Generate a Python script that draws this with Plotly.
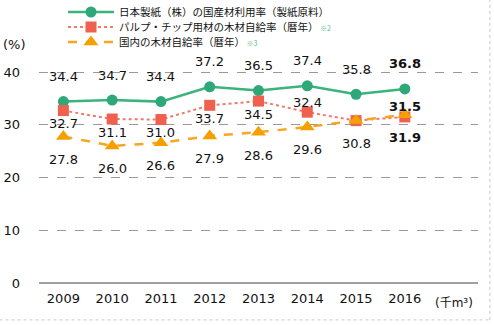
import plotly.graph_objects as go

years = ["2009", "2010", "2011", "2012", "2013", "2014", "2015", "2016"]
nippon = [34.4, 34.7, 34.4, 37.2, 36.5, 37.4, 35.8, 36.8]
pulp = [32.7, 31.1, 31.0, 33.7, 34.5, 32.4, 30.8, 31.5]
pulp_labels = ["32.7", "31.1", "31.0", "33.7", "34.5", "32.4", "", "31.5"]
domestic = [27.8, 26.0, 26.6, 27.9, 28.6, 29.6, 30.8, 31.9]

names = [
    "日本製紙（株）の国産材利用率（製紙原料）",
    "パルプ・チップ用材の木材自給率（暦年）<span style='font-size:7px;color:#5cc08a'> ※2</span>",
    "国内の木材自給率（暦年）<span style='font-size:7px;color:#5cc08a'> ※3</span>",
]

xs = list(range(len(years)))
FONT = "DejaVu Sans, Noto Sans CJK JP, sans-serif"

fig = go.Figure()
fig.add_trace(go.Scatter(
    x=xs, y=nippon, name=names[0], mode="lines+markers", legend="legend",
    line=dict(color="#3cb37a", width=2.5),
    marker=dict(symbol="circle", size=11, color="#2ea878"),
))
fig.add_trace(go.Scatter(
    x=xs, y=pulp, name=names[1], mode="lines+markers", legend="legend2",
    line=dict(color="#f07a6a", width=2, dash="dot"),
    marker=dict(symbol="square", size=11, color="#f0604e"),
))
fig.add_trace(go.Scatter(
    x=xs, y=domestic, name=names[2], mode="lines+markers", legend="legend3",
    line=dict(color="#f5a623", width=2.5, dash="dash"),
    marker=dict(symbol="triangle-up", size=13, color="#f5a000"),
))

annos = []
last = len(years) - 1
for i, v in enumerate(nippon):
    t = f"{v:.1f}"
    annos.append(dict(x=i, y=v, text=f"<b>{t}</b>" if i == last else t, showarrow=False,
                      yshift=25, font=dict(size=13, color="#111", family=FONT)))
for i, (v, t) in enumerate(zip(pulp, pulp_labels)):
    if not t:
        continue
    above = i in (5, 7)
    annos.append(dict(x=i, y=v, text=f"<b>{t}</b>" if i == last else t, showarrow=False,
                      yshift=10 if above else -13, font=dict(size=13, color="#111", family=FONT)))
for i, v in enumerate(domestic):
    t = f"{v:.1f}"
    annos.append(dict(x=i, y=v, text=f"<b>{t}</b>" if i == last else t, showarrow=False,
                      yshift=-23, font=dict(size=13, color="#111", family=FONT)))

annos.append(dict(x=8, y=0, text="(千m³)", showarrow=False, yshift=-20,
                  font=dict(size=12, color="#111", family=FONT)))
annos.append(dict(xref="paper", yref="paper", x=-0.055, y=1.03, xanchor="center", yanchor="middle",
                  text="(%)", showarrow=False, font=dict(size=13, color="#111", family=FONT)))

def leg(ypix):
    return dict(x=(63 - 39) / 439, y=(283 - ypix) / 232, xanchor="left", yanchor="middle",
                font=dict(size=10.5, family="Noto Sans CJK JP, sans-serif", color="#111"),
                itemwidth=46, bgcolor="rgba(0,0,0,0)")

fig.update_layout(
    width=494, height=325,
    margin=dict(l=39, r=16, t=51, b=42, autoexpand=False),
    paper_bgcolor="white", plot_bgcolor="white",
    font=dict(family=FONT, size=13, color="#111"),
    showlegend=True,
    legend=leg(12), legend2=leg(27), legend3=leg(42),
    annotations=annos,
    xaxis=dict(range=[-0.5, 8.5], tickvals=xs, ticktext=years, showgrid=False,
               zeroline=False, showline=False, ticks="", ticklabelstandoff=6,
               tickfont=dict(size=13)),
    yaxis=dict(range=[0, 44], tickvals=[0, 10, 20, 30, 40], showgrid=True,
               gridcolor="#9a9a9a", griddash="dash", gridwidth=1,
               zeroline=True, zerolinecolor="#a0a0a0", zerolinewidth=1.5,
               showline=False, ticks="", ticklabelstandoff=18, tickfont=dict(size=13)),
    shapes=[
        dict(type="line", xref="paper", yref="paper", x0=1.027, x1=1.027, y0=-0.159, y1=1.22,
             line=dict(color="#c8c8c8", width=1, dash="dot")),
        dict(type="line", xref="paper", yref="paper", x0=-0.09, x1=1.027, y0=-0.159, y1=-0.159,
             line=dict(color="#c8c8c8", width=1, dash="dot")),
    ],
)

fig.write_html("out.html")
